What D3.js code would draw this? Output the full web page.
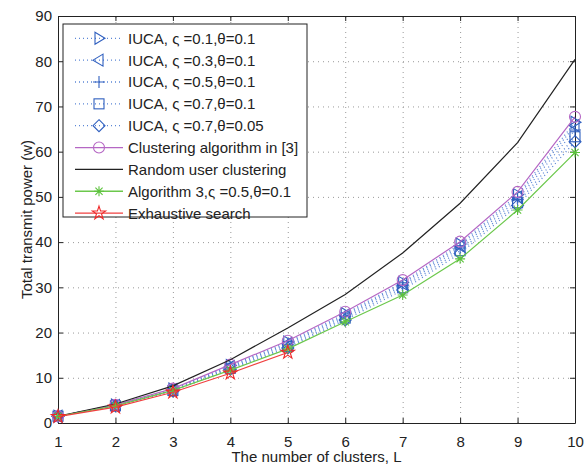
<!DOCTYPE html>
<html>
<head>
<meta charset="utf-8">
<script src="https://cdn.jsdelivr.net/npm/d3@7"></script>
<style>
    body { margin: 0; background: #fff; }
    text { font-family: "Liberation Sans", Arial, sans-serif; fill: #222; }
</style>
</head>
<body>
<div id="chart"></div>
<script>
const clusters = [1, 2, 3, 4, 5, 6, 7, 8, 9, 10]
const yTicks = [0, 10, 20, 30, 40, 50, 60, 70, 80, 90]

const iucaA = [1.5, 4.0, 7.5, 12.7, 17.9, 24.2, 31.1, 39.6, 50.5, 66.5]   // ς=0.1,θ=0.1
const iucaB = [1.5, 3.9, 7.4, 12.5, 17.6, 23.9, 30.8, 39.2, 50.0, 65.8]   // ς=0.3,θ=0.1
const iucaC = [1.5, 3.9, 7.3, 12.3, 17.3, 23.6, 30.4, 38.7, 49.4, 64.8]   // ς=0.5,θ=0.1
const iucaD = [1.5, 3.8, 7.2, 12.1, 16.9, 23.2, 29.9, 38.1, 48.7, 63.3]   // ς=0.7,θ=0.1
const iucaE = [1.5, 3.8, 7.1, 11.9, 16.6, 22.8, 29.4, 37.5, 48.1, 62.2]   // ς=0.7,θ=0.05
const clusterRef = [1.5, 4.0, 7.6, 12.9, 18.2, 24.6, 31.6, 40.1, 51.1, 67.7]
const randomClust = [1.5, 4.2, 8.2, 14.0, 21.0, 28.4, 37.6, 48.6, 62.0, 80.4]
const algo3 = [1.5, 3.8, 7.2, 11.7, 16.4, 22.4, 28.3, 36.3, 47.1, 59.8]
const exhaustive = [1.4, 3.5, 6.8, 11.0, 15.6]

const blue = '#2f5fbf', lightBlue = '#5b86d6'
const series = [
    { name: 'IUCA, ς =0.1,θ=0.1', values: iucaA, color: blue, line: lightBlue, dash: '1,3', marker: 'triR' },
    { name: 'IUCA, ς =0.3,θ=0.1', values: iucaB, color: blue, line: lightBlue, dash: '1,3', marker: 'triL' },
    { name: 'IUCA, ς =0.5,θ=0.1', values: iucaC, color: blue, line: lightBlue, dash: '1,3', marker: 'plus' },
    { name: 'IUCA, ς =0.7,θ=0.1', values: iucaD, color: blue, line: lightBlue, dash: '1,3', marker: 'square' },
    { name: 'IUCA, ς =0.7,θ=0.05', values: iucaE, color: blue, line: lightBlue, dash: '1,3', marker: 'diamond' },
    { name: 'Clustering algorithm in [3]', values: clusterRef, color: '#b567c4', line: '#b567c4', dash: null, marker: 'circle' },
    { name: 'Random user clustering', values: randomClust, color: '#222', line: '#222', dash: null, marker: null },
    { name: 'Algorithm 3,ς =0.5,θ=0.1', values: algo3, color: '#5cc23c', line: '#6cc84c', dash: null, marker: 'asterisk' },
    { name: 'Exhaustive search', values: exhaustive, color: '#f02828', line: '#f04040', dash: null, marker: 'star' }
]

const margin = { top: 16, right: 9, bottom: 43, left: 58 },
    width = 584 - margin.left - margin.right,
    height = 466 - margin.top - margin.bottom

const svg = d3.select('#chart').append('svg')
    .attr('width', 584)
    .attr('height', 466)
const chart = svg.append('g')
    .attr('transform', `translate(${margin.left},${margin.top})`)

const x = d3.scaleLinear().domain([1, 10]).range([0, width])
const y = d3.scaleLinear().domain([0, 90]).range([height, 0])

//Draw grid
chart.append('g')
    .call(d3.axisBottom(x).tickValues(clusters).tickSize(-height).tickFormat(''))
    .attr('transform', `translate(0,${height})`)
    .call(g => g.select('.domain').remove())
    .selectAll('line').attr('stroke', '#999').attr('stroke-dasharray', '1,4')
chart.append('g')
    .call(d3.axisLeft(y).tickValues(yTicks).tickSize(-width).tickFormat(''))
    .call(g => g.select('.domain').remove())
    .selectAll('line').attr('stroke', '#999').attr('stroke-dasharray', '1,4')
//End Draw grid

// frame with inner ticks
const axes = [
    { ax: d3.axisBottom(x).tickValues(clusters), t: `translate(0,${height})`, labels: true, pad: 13 },
    { ax: d3.axisTop(x).tickValues(clusters), t: 'translate(0,0)', labels: false, pad: 3 },
    { ax: d3.axisLeft(y).tickValues(yTicks), t: 'translate(0,0)', labels: true, pad: 6 },
    { ax: d3.axisRight(y).tickValues(yTicks), t: `translate(${width},0)`, labels: false, pad: 3 }
]
axes.forEach(a => {
    const g = chart.append('g')
        .attr('transform', a.t)
        .call(a.ax.tickSizeInner(-5).tickSizeOuter(0).tickPadding(a.pad))
    g.select('.domain').attr('stroke', '#222')
    g.selectAll('line').attr('stroke', '#222')
    if (!a.labels) g.selectAll('text').remove()
    else g.selectAll('text').style('font-size', '15px').attr('fill', '#222')
})

const lineGen = d3.line()
    .x((d, i) => x(clusters[i]))
    .y(d => y(d))

function drawMarker(g, type, color, cx, cy) {
    const m = g.append('g').attr('transform', `translate(${cx},${cy})`)
        .attr('fill', 'none').attr('stroke', color).attr('stroke-width', 1.1)
    if (type === 'triR') m.append('path').attr('d', 'M-4,-6L6,0L-4,6Z')
    else if (type === 'triL') m.append('path').attr('d', 'M4,-6L-6,0L4,6Z')
    else if (type === 'plus') m.append('path').attr('d', 'M-6,0H6M0,-6V6')
    else if (type === 'square') m.append('rect').attr('x', -5).attr('y', -5).attr('width', 10).attr('height', 10)
    else if (type === 'diamond') m.append('path').attr('d', 'M0,-6L6,0L0,6L-6,0Z')
    else if (type === 'circle') m.append('circle').attr('r', 5.5)
    else if (type === 'asterisk') m.append('path').attr('d', 'M-5,0H5M0,-5V5M-3.6,-3.6L3.6,3.6M-3.6,3.6L3.6,-3.6')
    else if (type === 'star') m.append('path').attr('d', d3.symbol(d3.symbolStar, 55)())
}

series.forEach(s => {
    const g = chart.append('g')
    g.append('path')
        .datum(s.values)
        .attr('d', lineGen)
        .attr('fill', 'none')
        .attr('stroke', s.line)
        .attr('stroke-width', s.dash ? 1.3 : 1.2)
        .attr('stroke-dasharray', s.dash)
    if (s.marker) {
        s.values.forEach((v, i) => drawMarker(g, s.marker, s.color, x(clusters[i]), y(v)))
    }
})

// legend
const legend = svg.append('g').attr('transform', 'translate(63,24)')
legend.append('rect')
    .attr('width', 244).attr('height', 193)
    .attr('fill', '#fff').attr('stroke', '#222')
series.forEach((s, i) => {
    const ly = 14.3 + i * 21.85
    legend.append('line')
        .attr('x1', 12).attr('x2', 60).attr('y1', ly).attr('y2', ly)
        .attr('stroke', s.line).attr('stroke-width', 1.3)
        .attr('stroke-dasharray', s.dash)
    if (s.marker) drawMarker(legend, s.marker, s.color, 36, ly)
    legend.append('text')
        .attr('x', 65).attr('y', ly)
        .attr('dy', '0.36em')
        .style('font-size', '15px')
        .text(s.name)
})

//x Axis Title
svg.append('text')
    .attr('x', margin.left + width / 2)
    .attr('y', 462)
    .attr('text-anchor', 'middle')
    .style('font-size', '15px')
    .text('The number of clusters, L')

//y Axis Title
svg.append('text')
    .attr('transform', `translate(32,${margin.top + height / 2}) rotate(-90)`)
    .attr('text-anchor', 'middle')
    .style('font-size', '15px')
    .text('Total transmit power (w)')
</script>
</body>
</html>
